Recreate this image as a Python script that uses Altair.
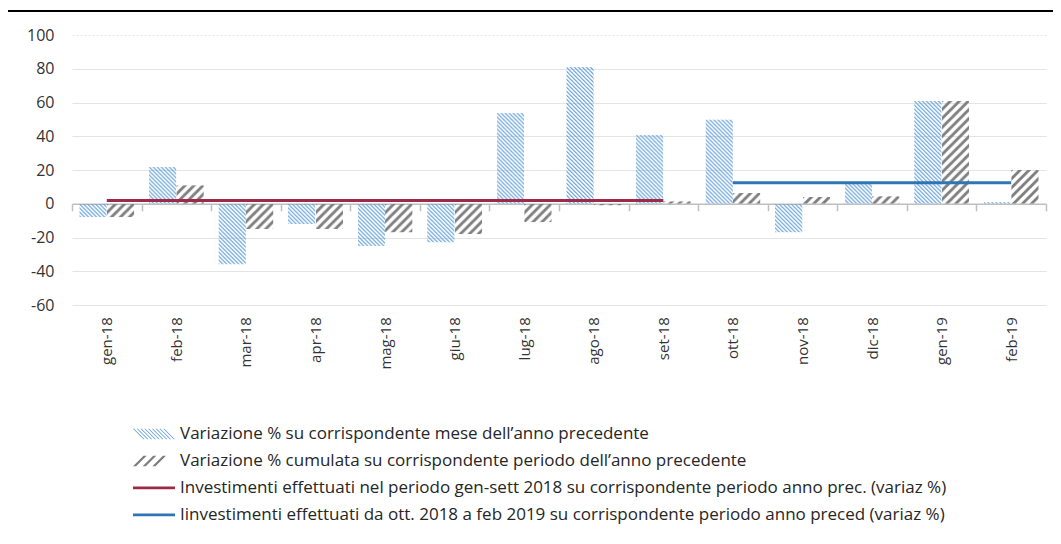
import base64
import altair as alt
import pandas as pd

# ---------------- data ----------------
months = ["gen-18", "feb-18", "mar-18", "apr-18", "mag-18", "giu-18", "lug-18",
          "ago-18", "set-18", "ott-18", "nov-18", "dic-18", "gen-19", "feb-19"]
monthly = [-8, 22, -36, -12, -25, -23, 54, 81, 41, 50, -17, 12, 61, 1]
cumulative = [-8, 11, -15, -15, -17, -18, -11, -1, 1.5, 6.5, 4, 4.5, 61, 20]

line1_months = ["gen-18", "set-18"]
line1_value = 2
line2_months = ["ott-18", "feb-19"]
line2_value = 12.5

labels = [
    "Variazione % su corrispondente mese dell’anno precedente",
    "Variazione % cumulata su corrispondente periodo dell’anno precedente",
    "Investimenti effettuati nel periodo gen-sett 2018 su corrispondente periodo anno prec. (variaz %)",
    "Iinvestimenti effettuati da ott. 2018 a feb 2019 su corrispondente periodo anno preced (variaz %)",
]
y_ticks = [-60, -40, -20, 0, 20, 40, 60, 80, 100]

# ---------------- styles ----------------
BLUE_HATCH = "#5B9BD5"
GREY_HATCH = "#7F7F7F"
RED_LINE = "#9E2A4A"
BLUE_LINE = "#2E75B6"
FONT = "Open Sans"


def svg_url(svg):
    return "data:image/svg+xml;base64," + base64.b64encode(svg.encode()).decode()


blue_svg = (
    '<svg xmlns="http://www.w3.org/2000/svg" width="100%" height="100%">'
    '<defs><pattern id="p" width="4" height="4" patternUnits="userSpaceOnUse">'
    f'<path d="M0,0L4,4M-1,3L1,5M3,-1L5,1" stroke="{BLUE_HATCH}" stroke-width="1.1" fill="none"/>'
    '</pattern></defs><rect width="100%" height="100%" fill="url(#p)"/></svg>'
)
grey_svg = (
    '<svg xmlns="http://www.w3.org/2000/svg" width="100%" height="100%">'
    '<defs><pattern id="p" width="9" height="9" patternUnits="userSpaceOnUse">'
    f'<path d="M0,9L9,0M-4.5,4.5L4.5,-4.5M4.5,13.5L13.5,4.5" stroke="{GREY_HATCH}" stroke-width="2.9" fill="none"/>'
    '</pattern></defs><rect width="100%" height="100%" fill="url(#p)"/></svg>'
)
urls = {"m": svg_url(blue_svg), "c": svg_url(grey_svg)}


def hatch_path(direction, width, step):
    parts = []
    x0 = -1.0
    while x0 + 0.5 + width <= 1.0 + 1e-9:
        if direction == "down":
            parts.append(f"M{x0:.3f},-0.25L{x0 + width:.3f},-0.25L{x0 + 0.5 + width:.3f},0.25L{x0 + 0.5:.3f},0.25Z")
        else:
            parts.append(f"M{x0:.3f},0.25L{x0 + width:.3f},0.25L{x0 + 0.5 + width:.3f},-0.25L{x0 + 0.5:.3f},-0.25Z")
        x0 += step
    return "".join(parts)


line_path = "M-1,-0.065H1V0.065H-1Z"
shape_range = [hatch_path("down", 0.05, 0.18), hatch_path("up", 0.15, 0.46), line_path, line_path]
color_range = [BLUE_HATCH, GREY_HATCH, RED_LINE, BLUE_LINE]

# ---------------- tables ----------------
bars = pd.DataFrame({
    "month": months + months,
    "value": monthly + cumulative,
    "k": ["m"] * len(months) + ["c"] * len(months),
    "label": [labels[0]] * len(months) + [labels[1]] * len(months),
})
bars["url"] = bars["k"].map(urls)

line1 = pd.DataFrame({"month": line1_months, "value": [line1_value] * 2, "label": labels[2]})
line2 = pd.DataFrame({"month": line2_months, "value": [line2_value] * 2, "label": labels[3]})
legend_df = pd.concat([bars[["month", "value", "label"]], line1, line2], ignore_index=True)

x_scale = alt.Scale(domain=months, paddingInner=0, paddingOuter=0)
y_scale = alt.Scale(domain=[-60, 100], nice=False, zero=False)

x_axis = alt.Axis(
    title=None, labelAngle=-90, offset=-101.25, tickBand="extent", tickSize=7,
    tickColor="#BFBFBF", domainColor="#BFBFBF", domainWidth=1.5, tickWidth=1.5,
    labelPadding=106, labelFont=FONT, labelFontSize=15, labelColor="#333333", grid=False,
)
y_axis = alt.Axis(
    title=None, values=y_ticks, grid=True, gridColor="#E4E4E4", gridWidth=1,
    gridDash={"condition": {"test": "datum.value === 100", "value": [2, 2]}, "value": []},
    domain=False, ticks=False, labelPadding=18, labelFont=FONT, labelFontSize=16,
    labelColor="#333333", labelOverlap=False, labelExpr="toString(datum.value)",
)


def xe():
    return alt.X("month:N", sort=months, scale=x_scale, axis=x_axis)


def ye():
    return alt.Y("value:Q", scale=y_scale, axis=y_axis)


hatched = alt.Chart(bars).mark_image(aspect=False).encode(
    x=xe(),
    xOffset=alt.XOffset("k:N", sort=["m", "c"],
                        scale=alt.Scale(domain=["m", "c"], paddingInner=0, paddingOuter=0.265)),
    y=ye(),
    y2=alt.datum(0),
    url=alt.Url("url:N"),
)

red = alt.Chart(line1).mark_line(color=RED_LINE, strokeWidth=3).encode(x=xe(), y=ye())
blue = alt.Chart(line2).mark_line(color=BLUE_LINE, strokeWidth=3).encode(x=xe(), y=ye())

leg = dict(
    orient="none", legendX=61, legendY=385.5, title=None, labelFont=FONT, labelFontSize=17,
    labelColor="#262626", symbolSize=1764, symbolStrokeWidth=0, symbolOpacity=1,
    clipHeight=26.8, rowPadding=0, labelLimit=1200, labelOffset=5,
)
legend_layer = alt.Chart(legend_df).mark_point(filled=True, opacity=0).encode(
    x=xe(), y=ye(),
    color=alt.Color("label:N", scale=alt.Scale(domain=labels, range=color_range), legend=alt.Legend(**leg)),
    shape=alt.Shape("label:N", scale=alt.Scale(domain=labels, range=shape_range), legend=alt.Legend(**leg)),
)

top_rule = alt.Chart(pd.DataFrame({"a": [0]})).mark_rule(color="#000000", strokeWidth=2).encode(
    x=alt.value(-67), x2=alt.value(990), y=alt.value(-24))

chart = alt.layer(hatched, red, blue, legend_layer, top_rule).properties(
    width=974, height=270, autosize="none", background="white",
    padding={"left": 64, "top": 27, "right": 7, "bottom": 225},
).configure_view(stroke="transparent", strokeWidth=0)

chart.save("out.html", embed_options={"renderer": "svg", "actions": False})
